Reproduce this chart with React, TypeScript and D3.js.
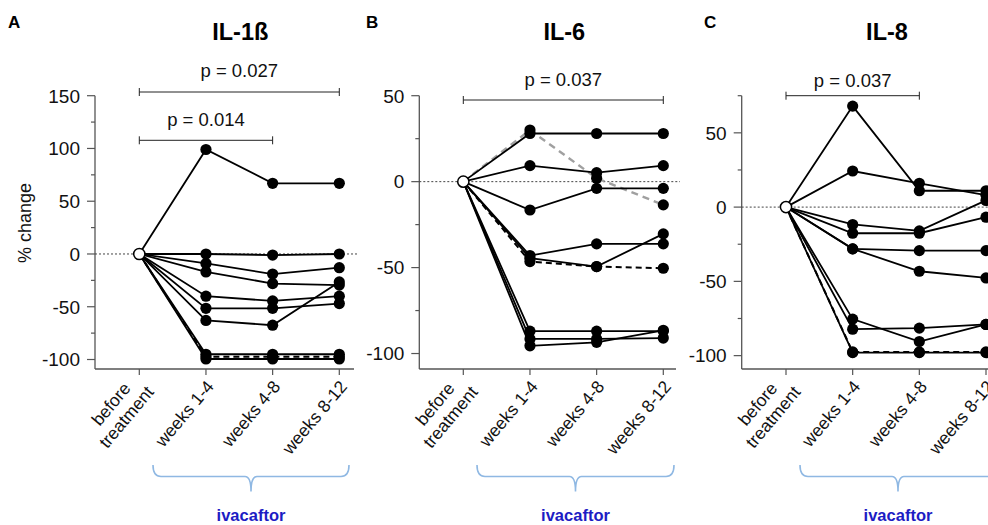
import React from "react";
import * as d3 from "d3";

const categories = ["before treatment", "weeks 1-4", "weeks 4-8", "weeks 8-12"];

// values at weeks 1-4, 4-8, 8-12 (before treatment = 0)
const il1bSeries = [
  [99, 67, 67],
  [0, -1, 0],
  [-9, -19, -13],
  [-17, -28, -29.5],
  [-40, -44.5, -40],
  [-51.5, -51.5, -47],
  [-63, -67.5, -26.5],
  [-95, -95, -95],
  [-97.5, -97.5, -97.5],
  [-99.5, -99.5, -99.5],
];
const il1bKinds = ["s", "s", "s", "s", "s", "s", "s", "s", "d", "s"];

const il6Series = [
  [30, 2, -13.5],
  [28, 28, 28],
  [9.3, 5.2, 9.3],
  [-16.5, -3.9, -3.9],
  [-43, -36.2, -36.2],
  [-44.5, -49.4, -30.4],
  [-46.5, -49.4, -50.4],
  [-87, -87, -87],
  [-91.5, -91.5, -91],
  [-95.5, -93.5, -86.5],
];
const il6Kinds = ["g", "s", "s", "s", "s", "s", "d", "s", "s", "s"];

const il8Series = [
  [68, 11, 11],
  [24.3, 16, 8],
  [-11.7, -16, 4.5],
  [-17.6, -17.6, -6.8],
  [-28.1, -29.3, -29.3],
  [-28.1, -43.2, -47.7],
  [-75.4, -90.5, -79],
  [-82.2, -81.5, -79],
  [-98, -98, -98],
  [-97.5, -97.5, -97.5],
];
const il8Kinds = ["s", "s", "s", "s", "s", "s", "s", "s", "s", "d"];

const il1bTicks = [150, 100, 50, 0, -50, -100];
const il1bMinor = [125, 75, 25, -25, -75];
const il6Ticks = [50, 0, -50, -100];
const il6Minor = [25, -25, -75];
const il8Ticks = [50, 0, -50, -100];
const il8Minor = [75, 25, -25, -75];

const panelsCfg = [
  {
    letter: "A", title: "IL-1ß", series: il1bSeries, kinds: il1bKinds,
    ticks: il1bTicks, minor: il1bMinor, yTop: 150,
    axisX: 95, x0: 139.3, x3: 339.3, axisEnd: 354,
    brackets: [
      { from: 0, to: 3, y: 92, label: "p = 0.027", ty: 77 },
      { from: 0, to: 2, y: 140.3, label: "p = 0.014", ty: 126 },
    ],
    letterX: 8, braceL: 153, braceR: 349, showYLabel: true,
  },
  {
    letter: "B", title: "IL-6", series: il6Series, kinds: il6Kinds,
    ticks: il6Ticks, minor: il6Minor, yTop: 50,
    axisX: 419.3, x0: 463.3, x3: 663.3, axisEnd: 676,
    brackets: [{ from: 0, to: 3, y: 100, label: "p = 0.037", ty: 86 }],
    letterX: 366, braceL: 477, braceR: 674, showYLabel: false,
  },
  {
    letter: "C", title: "IL-8", series: il8Series, kinds: il8Kinds,
    ticks: il8Ticks, minor: il8Minor, yTop: 75,
    axisX: 741.7, x0: 786, x3: 986, axisEnd: 1000,
    brackets: [{ from: 0, to: 2, y: 95.7, label: "p = 0.037", ty: 87 }],
    letterX: 704, braceL: 800, braceR: 996, showYLabel: false,
  },
];

const FONT = "Liberation Sans, Arial, Helvetica, sans-serif";
const AXIS_COLOR = "#555";
const yTopPx = 95.7;
const yBotPx = 369;
const yBottomVal = -109;

function Panel({ cfg }: { cfg: any }) {
  const x = d3.scaleLinear().domain([0, 3]).range([cfg.x0, cfg.x3]);
  const y = d3.scaleLinear().domain([yBottomVal, cfg.yTop]).range([yBotPx, yTopPx]);
  const line = d3
    .line<number>()
    .x((_, i) => x(i))
    .y((v) => y(v));
  const mid = (cfg.braceL + cfg.braceR) / 2;
  const titleX = (cfg.x0 + cfg.x3) / 2 + 1;
  const braceTop = 465;
  const braceY = 476.5;
  const braceTip = 491.5;
  const bracePath = `M${cfg.braceL},${braceTop} Q${cfg.braceL},${braceY} ${cfg.braceL + 8},${braceY} L${mid - 6},${braceY} Q${mid},${braceY} ${mid},${braceTip} Q${mid},${braceY} ${mid + 6},${braceY} L${cfg.braceR - 8},${braceY} Q${cfg.braceR},${braceY} ${cfg.braceR},${braceTop}`;

  return (
    <g>
      <text x={cfg.letterX} y={28} fontSize={17} fontWeight="bold" fontFamily={FONT}>
        {cfg.letter}
      </text>
      <text x={titleX} y={40} fontSize={23.5} fontWeight="bold" textAnchor="middle" fontFamily={FONT}>
        {cfg.title}
      </text>
      {cfg.brackets.map((b: any, i: number) => (
        <g key={i} stroke="#222" strokeWidth={1}>
          <line x1={x(b.from)} x2={x(b.to)} y1={b.y} y2={b.y} />
          <line x1={x(b.from)} x2={x(b.from)} y1={b.y - 4} y2={b.y + 4} />
          <line x1={x(b.to)} x2={x(b.to)} y1={b.y - 4} y2={b.y + 4} />
          <text
            x={(x(b.from) + x(b.to)) / 2}
            y={b.ty}
            stroke="none"
            fill="#111"
            fontSize={18.5}
            textAnchor="middle"
            fontFamily={FONT}
          >
            {b.label}
          </text>
        </g>
      ))}
      {/* axes */}
      <line x1={cfg.axisX} x2={cfg.axisX} y1={yTopPx} y2={yBotPx} stroke={AXIS_COLOR} strokeWidth={1.3} />
      <line x1={cfg.axisX} x2={cfg.axisEnd} y1={yBotPx} y2={yBotPx} stroke={AXIS_COLOR} strokeWidth={1.3} />
      {cfg.ticks.map((t: number) => (
        <g key={"t" + t}>
          <line x1={cfg.axisX - 8} x2={cfg.axisX} y1={y(t)} y2={y(t)} stroke={AXIS_COLOR} strokeWidth={1.2} />
          <text
            x={cfg.axisX - 15}
            y={y(t)}
            dy="0.36em"
            fontSize={19}
            textAnchor="end"
            fill="#111"
            fontFamily={FONT}
          >
            {t}
          </text>
        </g>
      ))}
      {cfg.minor.map((t: number) => (
        <line key={"m" + t} x1={cfg.axisX - 4} x2={cfg.axisX} y1={y(t)} y2={y(t)} stroke={AXIS_COLOR} strokeWidth={1.2} />
      ))}
      {categories.map((c, i) => (
        <line key={"xt" + i} x1={x(i)} x2={x(i)} y1={yBotPx} y2={yBotPx + 6} stroke={AXIS_COLOR} strokeWidth={1.2} />
      ))}
      {categories.map((c, i) => {
        const lines = i === 0 ? ["before", "treatment"] : [c];
        return (
          <text
            key={"xl" + i}
            transform={`translate(${x(i) + 4},${yBotPx + 14}) rotate(-50)`}
            fontSize={17.5}
            textAnchor="end"
            fill="#111"
            fontFamily={FONT}
          >
            {lines.map((l, j) => (
              <tspan key={j} x={i === 0 && j === 0 ? -12 : 0} dy={j === 0 ? (lines.length > 1 ? "-0.3em" : "0.35em") : "1.15em"}>
                {l}
              </tspan>
            ))}
          </text>
        );
      })}
      {/* zero line */}
      <line
        x1={cfg.axisX}
        x2={cfg.axisEnd + 4}
        y1={y(0)}
        y2={y(0)}
        stroke="#444"
        strokeWidth={1}
        strokeDasharray="2,2"
      />
      {/* series lines */}
      {cfg.series.map((s: number[], i: number) => {
        const k = cfg.kinds[i];
        return (
          <path
            key={"l" + i}
            d={line([0, ...s]) as string}
            fill="none"
            stroke={k === "g" ? "#a0a0a0" : "#000"}
            strokeWidth={k === "g" ? 2.4 : k === "d" ? 2 : 1.8}
            strokeDasharray={k === "g" ? "7,5" : k === "d" ? "6,4" : undefined}
          />
        );
      })}
      {cfg.series.map((s: number[], i: number) =>
        s.map((v: number, j: number) => (
          <circle key={`p${i}-${j}`} cx={x(j + 1)} cy={y(v)} r={5.6} fill="#000" />
        ))
      )}
      <circle cx={x(0)} cy={y(0)} r={5.6} fill="#fff" stroke="#000" strokeWidth={1.5} />
      {/* brace */}
      <path d={bracePath} fill="none" stroke="#8fb8e3" strokeWidth={1.6} />
      <text x={mid} y={521} fontSize={16.5} fontWeight="bold" fill="#1c1cc4" textAnchor="middle" fontFamily={FONT}>
        ivacaftor
      </text>
      {cfg.showYLabel && (
        <text
          transform={`translate(31,223) rotate(-90)`}
          fontSize={18}
          textAnchor="middle"
          fill="#111"
          fontFamily={FONT}
        >
          % change
        </text>
      )}
    </g>
  );
}

export default function App() {
  return (
    <svg
      width={988}
      height={525}
      style={{ position: "absolute", left: 0, top: 0, background: "#fff" }}
    >
      <rect width={988} height={525} fill="#fff" />
      {panelsCfg.map((p) => (
        <Panel key={p.letter} cfg={p} />
      ))}
    </svg>
  );
}
